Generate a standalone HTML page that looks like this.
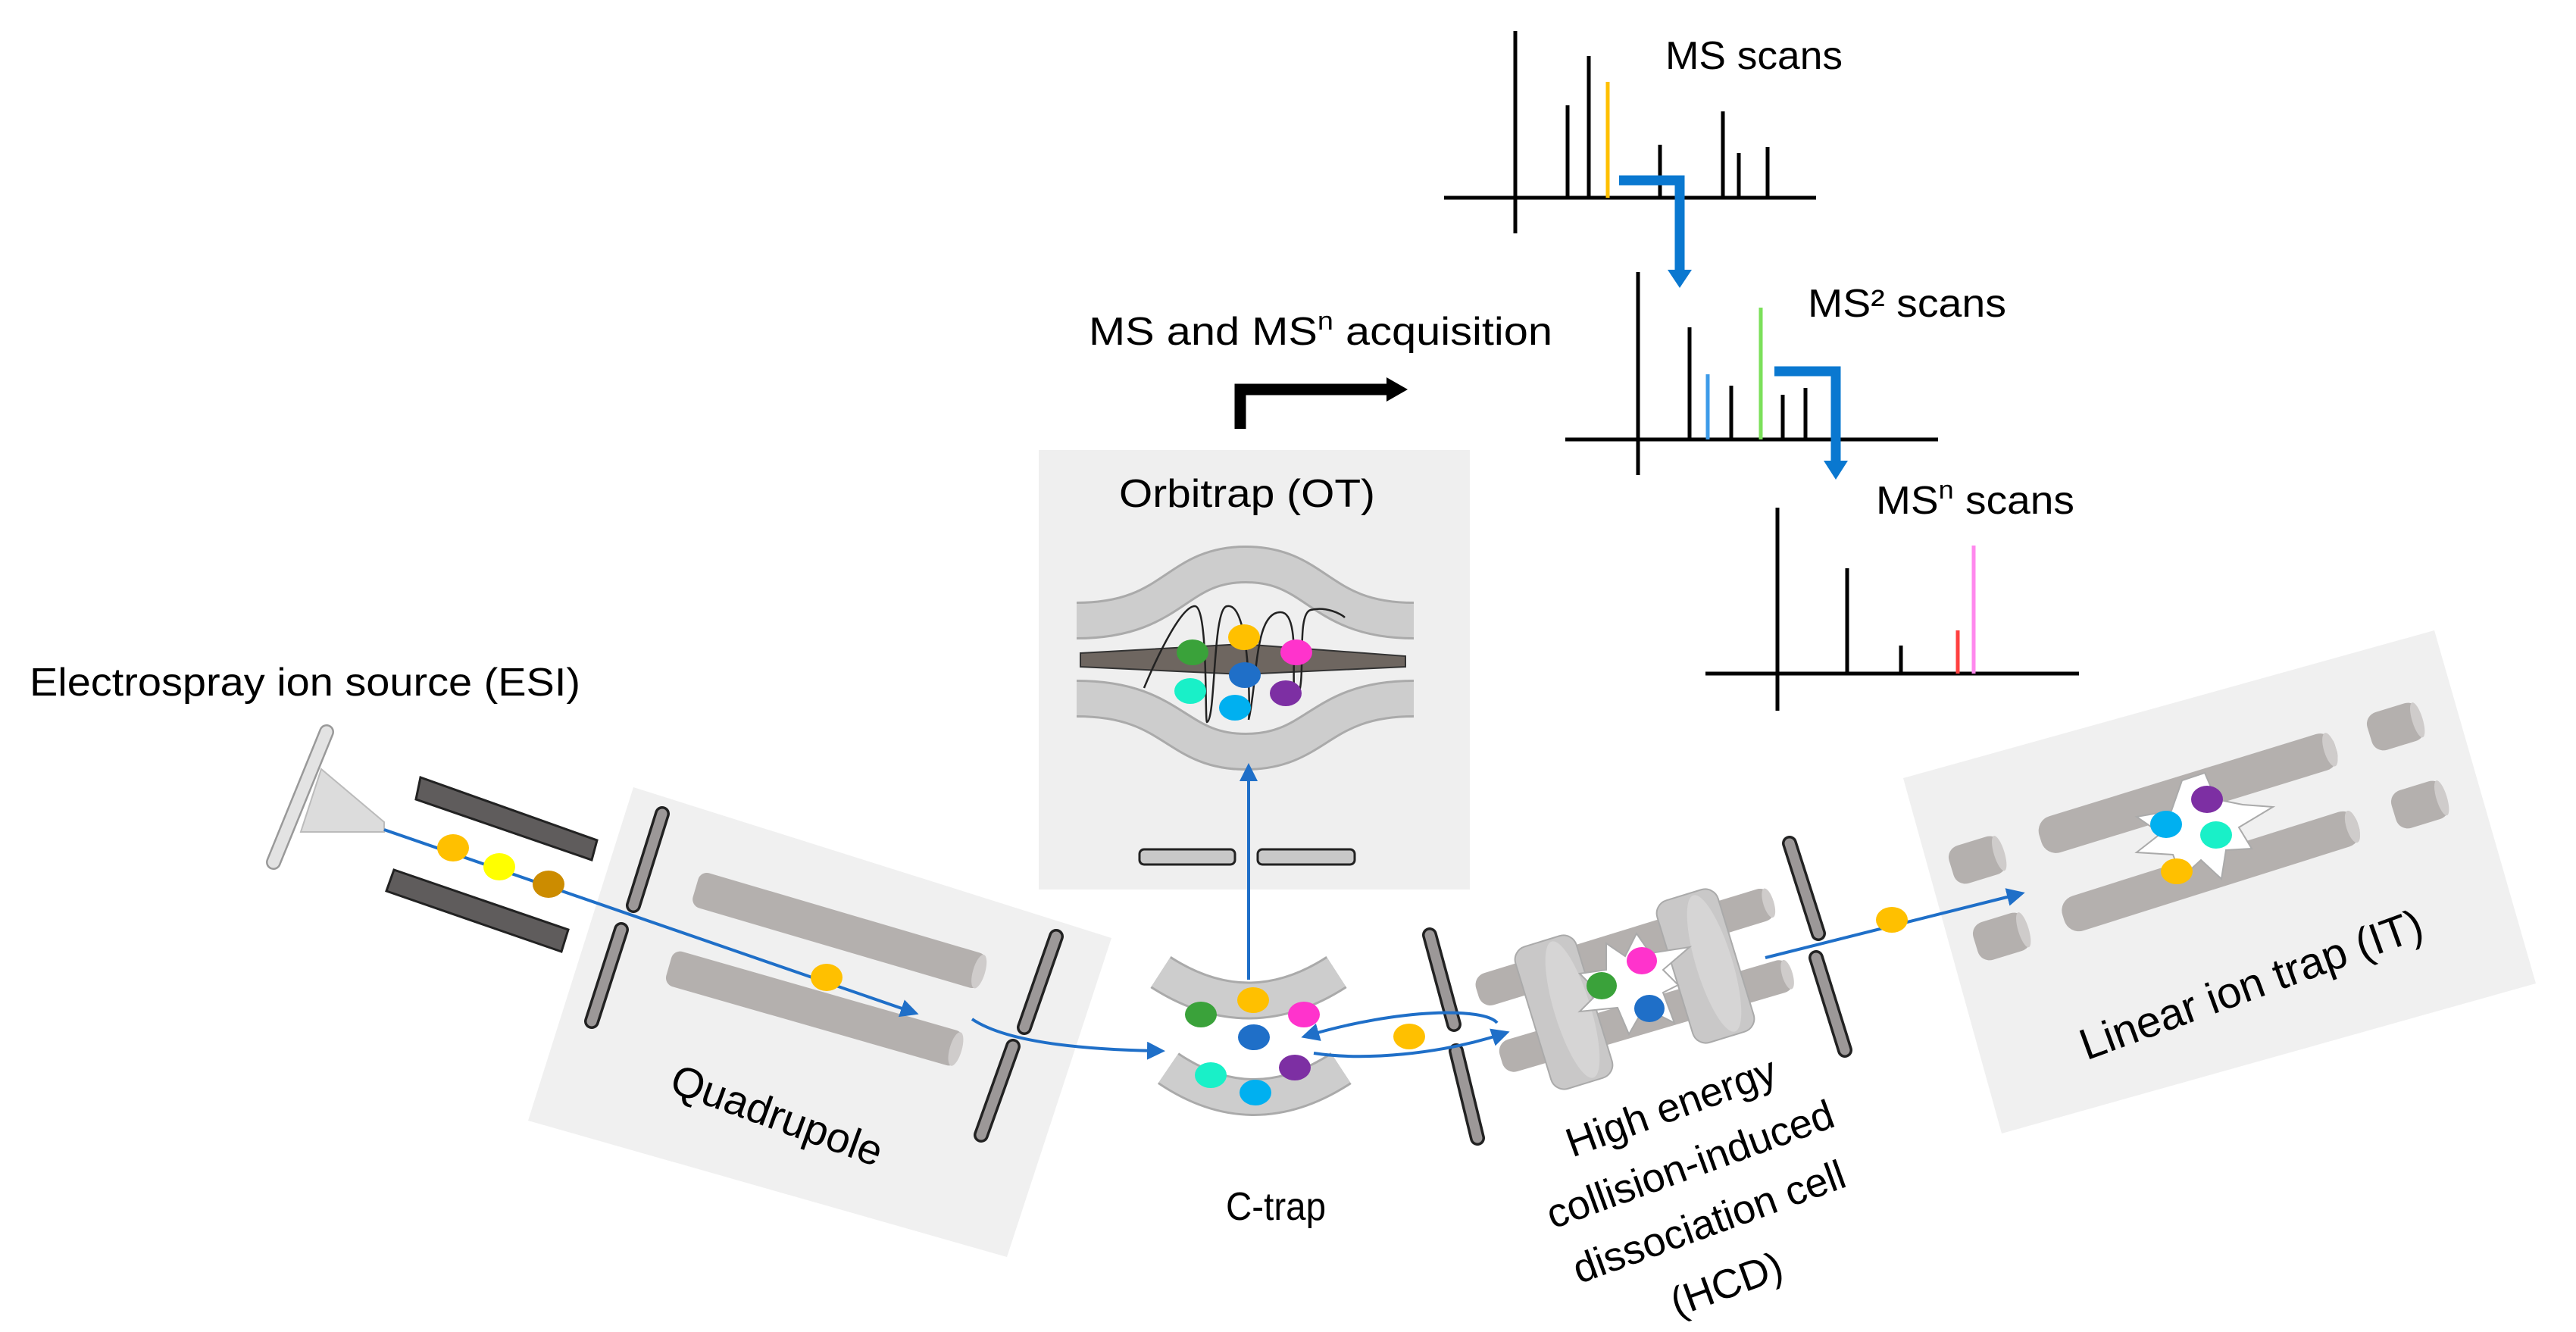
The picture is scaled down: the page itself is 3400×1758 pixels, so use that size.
<!DOCTYPE html>
<html><head><meta charset="utf-8"><style>
html,body{margin:0;padding:0;background:#fff;}
svg{display:block;}
text{font-family:"Liberation Sans",sans-serif;fill:#000;}
</style></head><body>
<svg width="3400" height="1758" viewBox="0 0 3400 1758" xmlns="http://www.w3.org/2000/svg">
<defs>
<marker id="ab" markerWidth="6" markerHeight="6" refX="4" refY="3" orient="auto" markerUnits="strokeWidth"><path d="M0,0 L6,3 L0,6 Z" fill="#1f6fc8"/></marker>
</defs>

<!-- Boxes -->
<polygon points="836,1039 1467,1238 1329,1659 697,1479" fill="#f0f0f0"/>
<rect x="1371" y="594" width="569" height="580" fill="#efefef"/>
<polygon points="2512,1027 3213,832 3347,1298 2642,1496" fill="#f0f0f0"/>

<!-- Texts -->
<text x="39" y="918" font-size="52" textLength="727" lengthAdjust="spacingAndGlyphs">Electrospray ion source (ESI)</text>
<text x="1437" y="455" font-size="52" textLength="612" lengthAdjust="spacingAndGlyphs">MS and MS<tspan font-size="34" dy="-20">n</tspan><tspan dy="20"> acquisition</tspan></text>
<text x="2198" y="91" font-size="52" textLength="234" lengthAdjust="spacingAndGlyphs">MS scans</text>
<text x="2386" y="418" font-size="52" textLength="262" lengthAdjust="spacingAndGlyphs">MS² scans</text>
<text x="2476" y="678" font-size="52" textLength="262" lengthAdjust="spacingAndGlyphs">MS<tspan font-size="34" dy="-20">n</tspan><tspan dy="20"> scans</tspan></text>
<text x="1477" y="669" font-size="52" textLength="338" lengthAdjust="spacingAndGlyphs">Orbitrap (OT)</text>
<text x="1684" y="1610" font-size="52" text-anchor="middle" textLength="132" lengthAdjust="spacingAndGlyphs">C-trap</text>
<text transform="translate(1019,1490) rotate(20)" text-anchor="middle" font-size="56">Quadrupole</text>
<text transform="translate(2978,1318) rotate(-20)" text-anchor="middle" font-size="58">Linear ion trap (IT)</text>
<g font-size="54" text-anchor="middle">
<text transform="translate(2212,1478) rotate(-20)">High energy</text>
<text transform="translate(2237,1554) rotate(-20)">collision-induced</text>
<text transform="translate(2262,1630) rotate(-20)">dissociation cell</text>
<text transform="translate(2285,1712) rotate(-20)">(HCD)</text>
</g>

<!-- Spectra -->
<g stroke="#000" stroke-width="5" fill="none">
<line x1="1906" y1="261" x2="2397" y2="261"/><line x1="2000" y1="41" x2="2000" y2="308"/>
<line x1="2069" y1="261" x2="2069" y2="139"/><line x1="2097" y1="261" x2="2097" y2="74"/>
<line x1="2191" y1="261" x2="2191" y2="191"/><line x1="2274" y1="261" x2="2274" y2="147"/>
<line x1="2295" y1="261" x2="2295" y2="202"/><line x1="2333" y1="261" x2="2333" y2="194"/>
<line x1="2066" y1="580" x2="2558" y2="580"/><line x1="2162" y1="359" x2="2162" y2="627"/>
<line x1="2230" y1="580" x2="2230" y2="432"/><line x1="2285" y1="580" x2="2285" y2="509"/>
<line x1="2353" y1="580" x2="2353" y2="521"/><line x1="2383" y1="580" x2="2383" y2="512"/>
<line x1="2251" y1="889" x2="2744" y2="889"/><line x1="2346" y1="670" x2="2346" y2="938"/>
<line x1="2438" y1="889" x2="2438" y2="750"/><line x1="2509" y1="889" x2="2509" y2="852"/>
</g>
<line x1="2122" y1="261" x2="2122" y2="108" stroke="#ffc000" stroke-width="5"/>
<line x1="2254" y1="580" x2="2254" y2="494" stroke="#3d9be9" stroke-width="5"/>
<line x1="2324" y1="580" x2="2324" y2="406" stroke="#7be05a" stroke-width="5"/>
<line x1="2584" y1="889" x2="2584" y2="832" stroke="#ff4040" stroke-width="5"/>
<line x1="2605" y1="889" x2="2605" y2="720" stroke="#ff88ee" stroke-width="5"/>
<path d="M2137,238 H2217 V360" fill="none" stroke="#0a78d0" stroke-width="13"/>
<polygon points="2201,356 2233,356 2217,380" fill="#0a78d0"/>
<path d="M2342,490 H2423 V612" fill="none" stroke="#0a78d0" stroke-width="13"/>
<polygon points="2407,608 2439,608 2423,633" fill="#0a78d0"/>
<path d="M1637,566 V514 H1835" fill="none" stroke="#000" stroke-width="15"/>
<polygon points="1830,498 1858,514 1830,530" fill="#000"/>

<!-- Orbitrap electrodes -->
<g fill="none">
<path d="M1421,819 C1550,819 1550,745 1644,745 C1740,745 1740,819 1866,819" stroke="#aaa" stroke-width="50"/>
<path d="M1421,819 C1550,819 1550,745 1644,745 C1740,745 1740,819 1866,819" stroke="#cdcdcd" stroke-width="44"/>
<path d="M1421,922 C1550,922 1550,992 1644,992 C1740,992 1740,922 1866,922" stroke="#aaa" stroke-width="50"/>
<path d="M1421,922 C1550,922 1550,992 1644,992 C1740,992 1740,922 1866,922" stroke="#cdcdcd" stroke-width="44"/>
</g>
<path d="M1426,862 L1640,850 L1855,866 L1855,880 L1640,890 L1426,880 Z" fill="#6e6660" stroke="#333" stroke-width="2"/>
<path d="M1510,908 C1530,860 1560,800 1577,800 C1595,800 1590,950 1593,953 C1605,950 1600,800 1620,800 C1650,795 1650,940 1648,950 C1660,900 1655,808 1690,808 C1720,808 1700,920 1712,920 C1725,900 1710,810 1730,805 C1750,800 1770,810 1775,815" fill="none" stroke="#222" stroke-width="2.5"/>
<rect x="1504" y="1121" width="126" height="20" rx="6" fill="#c8c8c8" stroke="#222" stroke-width="3"/>
<rect x="1660" y="1121" width="128" height="20" rx="6" fill="#c8c8c8" stroke="#222" stroke-width="3"/>

<!-- C-trap -->
<g fill="none">
<path d="M1532,1283 Q1648,1358 1764,1283" stroke="#aaa" stroke-width="50"/>
<path d="M1532,1283 Q1648,1358 1764,1283" stroke="#cdcdcd" stroke-width="44"/>
<path d="M1542,1410 Q1654,1486 1770,1410" stroke="#aaa" stroke-width="50"/>
<path d="M1542,1410 Q1654,1486 1770,1410" stroke="#cdcdcd" stroke-width="44"/>
</g>

<!-- Quad rods -->
<g transform="translate(1108,1228) rotate(16.4)"><rect x="-198" y="-24" width="396" height="48" rx="12" fill="#b4b0ae"/><ellipse cx="192" cy="0" rx="8" ry="23" fill="#cfcccb"/></g>
<g transform="translate(1075,1331) rotate(16)"><rect x="-200" y="-24" width="400" height="48" rx="12" fill="#b4b0ae"/><ellipse cx="194" cy="0" rx="8" ry="23" fill="#cfcccb"/></g>

<!-- LIT rods -->
<g fill="#b4b0ae">
<g transform="translate(2888,1047) rotate(-17.1)"><rect x="-204" y="-25" width="408" height="50" rx="20"/><ellipse cx="196" cy="0" rx="8" ry="23" fill="#cfcccb"/></g>
<g transform="translate(2918,1150) rotate(-17.5)"><rect x="-204" y="-24" width="408" height="48" rx="20"/><ellipse cx="196" cy="0" rx="8" ry="22" fill="#cfcccb"/></g>
<g transform="translate(2610,1135) rotate(-17)"><rect x="-36" y="-26" width="72" height="52" rx="16"/><ellipse cx="30" cy="0" rx="7" ry="24" fill="#cfcccb"/></g>
<g transform="translate(2642,1236) rotate(-17)"><rect x="-36" y="-26" width="72" height="52" rx="16"/><ellipse cx="30" cy="0" rx="7" ry="24" fill="#cfcccb"/></g>
<g transform="translate(3162,959) rotate(-17)"><rect x="-36" y="-26" width="72" height="52" rx="16"/><ellipse cx="30" cy="0" rx="7" ry="24" fill="#cfcccb"/></g>
<g transform="translate(3194,1062) rotate(-17)"><rect x="-36" y="-26" width="72" height="52" rx="16"/><ellipse cx="30" cy="0" rx="7" ry="24" fill="#cfcccb"/></g>
</g>
<polygon points="2910,1020 2925,1055 2960,1062 3000,1065 2955,1092 2972,1120 2938,1122 2932,1160 2905,1135 2880,1158 2868,1128 2820,1125 2852,1100 2820,1078 2866,1070 2880,1030" fill="#fff" stroke="#aaa" stroke-width="2"/>

<!-- HCD -->
<g fill="#b4b0ae">
<g transform="translate(2145,1250) rotate(-17.1)"><rect x="-204" y="-22" width="408" height="44" rx="16"/><ellipse cx="198" cy="0" rx="7" ry="20" fill="#cfcccb"/></g>
<g transform="translate(2173,1341) rotate(-16.4)"><rect x="-200" y="-22" width="400" height="44" rx="16"/><ellipse cx="194" cy="0" rx="7" ry="20" fill="#cfcccb"/></g>
</g>
<g transform="translate(2064,1336) rotate(-17)"><rect x="-42" y="-98" width="84" height="196" rx="18" fill="#c9c8c8" stroke="#aaa" stroke-width="2"/><ellipse cx="12" cy="0" rx="24" ry="94" fill="#d6d5d5"/></g>
<g transform="translate(2251,1275) rotate(-17)"><rect x="-42" y="-98" width="84" height="196" rx="18" fill="#c9c8c8" stroke="#aaa" stroke-width="2"/><ellipse cx="12" cy="0" rx="24" ry="94" fill="#d6d5d5"/></g>
<polygon points="2160,1232 2178,1258 2230,1250 2195,1280 2215,1300 2195,1310 2210,1350 2170,1330 2150,1365 2135,1330 2085,1335 2110,1310 2085,1285 2120,1280 2120,1245 2145,1262" fill="#fff" stroke="#aaa" stroke-width="2"/>

<!-- ESI -->
<line x1="431" y1="966" x2="361" y2="1138" stroke="#999" stroke-width="20" stroke-linecap="round"/>
<line x1="431" y1="966" x2="361" y2="1138" stroke="#e3e3e3" stroke-width="15" stroke-linecap="round"/>
<polygon points="424,1015 507,1085 507,1098 397,1098" fill="#dcdcdc" stroke="#bbb" stroke-width="2"/>
<polygon points="555,1026 788,1109 781,1135 549,1055" fill="#5f5c5c" stroke="#222" stroke-width="3"/>
<polygon points="520,1148 750,1227 741,1256 510,1176" fill="#5f5c5c" stroke="#222" stroke-width="3"/>

<!-- Lenses -->
<g stroke-linecap="round">
<g stroke="#222" stroke-width="20">
<line x1="874" y1="1074" x2="836" y2="1195"/><line x1="820" y1="1227" x2="781" y2="1348"/>
<line x1="1394" y1="1236" x2="1352" y2="1356"/><line x1="1337" y1="1381" x2="1295" y2="1498"/>
<line x1="1887" y1="1234" x2="1919" y2="1352"/><line x1="1922" y1="1387" x2="1950" y2="1502"/>
<line x1="2362" y1="1113" x2="2400" y2="1232"/><line x1="2397" y1="1264" x2="2435" y2="1386"/>
</g>
<g stroke="#9c9898" stroke-width="13">
<line x1="874" y1="1074" x2="836" y2="1195"/><line x1="820" y1="1227" x2="781" y2="1348"/>
<line x1="1394" y1="1236" x2="1352" y2="1356"/><line x1="1337" y1="1381" x2="1295" y2="1498"/>
<line x1="1887" y1="1234" x2="1919" y2="1352"/><line x1="1922" y1="1387" x2="1950" y2="1502"/>
<line x1="2362" y1="1113" x2="2400" y2="1232"/><line x1="2397" y1="1264" x2="2435" y2="1386"/>
</g>
</g>

<!-- Blue paths -->
<g fill="none" stroke="#1f6fc8" stroke-width="4" marker-end="url(#ab)">
<line x1="507" y1="1095" x2="1205" y2="1336"/>
<path d="M1283,1345 C1320,1370 1400,1385 1530,1387"/>
<line x1="1648" y1="1293" x2="1648" y2="1015"/>
<path d="M1976,1350 C1960,1330 1850,1330 1725,1367"/>
<path d="M1734,1390 C1800,1400 1900,1392 1985,1364"/>
<line x1="2330" y1="1264" x2="2665" y2="1180"/>
</g>

<!-- Ions -->
<g>
<ellipse cx="598" cy="1119" rx="21" ry="18" fill="#ffc000"/>
<ellipse cx="659" cy="1144" rx="21" ry="18" fill="#ffff00"/>
<ellipse cx="724" cy="1167" rx="21" ry="18" fill="#cc8c00"/>
<ellipse cx="1091" cy="1290" rx="21" ry="18" fill="#ffc000"/>
<ellipse cx="1574" cy="861" rx="21" ry="17" fill="#3aa23a"/>
<ellipse cx="1642" cy="841" rx="21" ry="17" fill="#ffc000"/>
<ellipse cx="1711" cy="861" rx="21" ry="17" fill="#ff33cc"/>
<ellipse cx="1643" cy="891" rx="21" ry="17" fill="#1f6fc8"/>
<ellipse cx="1571" cy="912" rx="21" ry="17" fill="#19f0c8"/>
<ellipse cx="1630" cy="934" rx="21" ry="17" fill="#00b0f0"/>
<ellipse cx="1697" cy="915" rx="21" ry="17" fill="#7d2fa3"/>
<ellipse cx="1654" cy="1320" rx="21" ry="17" fill="#ffc000"/>
<ellipse cx="1585" cy="1339" rx="21" ry="17" fill="#3aa23a"/>
<ellipse cx="1721" cy="1339" rx="21" ry="17" fill="#ff33cc"/>
<ellipse cx="1655" cy="1369" rx="21" ry="17" fill="#1f6fc8"/>
<ellipse cx="1598" cy="1419" rx="21" ry="17" fill="#19f0c8"/>
<ellipse cx="1657" cy="1442" rx="21" ry="17" fill="#00b0f0"/>
<ellipse cx="1709" cy="1409" rx="21" ry="17" fill="#7d2fa3"/>
<ellipse cx="1860" cy="1368" rx="21" ry="17" fill="#ffc000"/>
<ellipse cx="2167" cy="1268" rx="20" ry="18" fill="#ff33cc"/>
<ellipse cx="2114" cy="1301" rx="20" ry="18" fill="#3aa23a"/>
<ellipse cx="2177" cy="1331" rx="20" ry="18" fill="#1f6fc8"/>
<ellipse cx="2497" cy="1214" rx="21" ry="17" fill="#ffc000"/>
<ellipse cx="2913" cy="1055" rx="21" ry="18" fill="#7d2fa3"/>
<ellipse cx="2859" cy="1088" rx="21" ry="18" fill="#00b0f0"/>
<ellipse cx="2925" cy="1102" rx="21" ry="18" fill="#19f0c8"/>
<ellipse cx="2873" cy="1150" rx="21" ry="17" fill="#ffc000"/>
</g>
</svg>
</body></html>
